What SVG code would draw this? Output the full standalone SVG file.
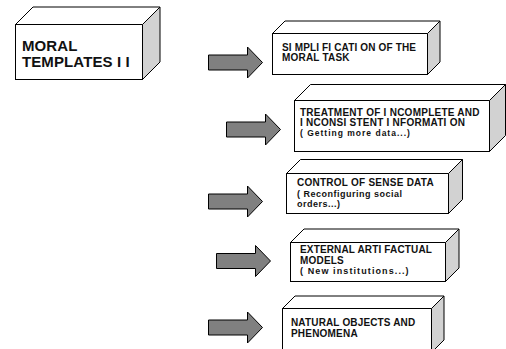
<svg xmlns="http://www.w3.org/2000/svg" width="506" height="349" viewBox="0 0 506 349">
<style>
.f{fill:#ffffff;stroke:#000;stroke-width:1}
.s{fill:#d2d2d2;stroke:#000;stroke-width:1}
.t{font-family:"Liberation Sans",Arial,sans-serif;font-weight:bold;font-size:10px;fill:#111;letter-spacing:0.2px}
.p{font-size:9px;letter-spacing:0.8px}
.big{font-size:15px;letter-spacing:0.1px}
.arr{fill:#808080;stroke:#000;stroke-width:1}
</style>
<defs>
<polygon id="arrow" points="0,-7.5 39,-7.5 39,-15.5 54,0 39,15.5 39,7.5 0,7.5"/>
</defs>
<rect width="506" height="349" fill="#fff"/>
<g id="connectors">
<use href="#arrow" class="arr" transform="translate(208.5,62.5)"/>
<use href="#arrow" class="arr" transform="translate(226.5,129.5)"/>
<use href="#arrow" class="arr" transform="translate(208.5,201.5)"/>
<use href="#arrow" class="arr" transform="translate(216.5,261)"/>
<use href="#arrow" class="arr" transform="translate(208.5,327.5)"/>
</g>
<g id="moral-templates">
<rect class="f" x="15.5" y="24.5" width="127" height="55"/>
<polygon class="f" points="15.5,24.5 33,7 160,7 142.5,24.5"/>
<polygon class="s" points="142.5,24.5 160,7 160,62 142.5,79.5"/>
<text class="t big" x="22" y="50.5">MORAL</text>
<text class="t big" x="22" y="67">TEMPLATES I I</text>
</g>
<g id="simplification">
<rect class="f" x="272.5" y="33.5" width="155" height="41"/>
<polygon class="f" points="272.5,33.5 285,21 440,21 427.5,33.5"/>
<polygon class="s" points="427.5,33.5 440,21 440,62 427.5,74.5"/>
<text class="t" x="282" y="50.5" style="letter-spacing:0.15px">SI MPLI FI CATI ON OF THE</text>
<text class="t" x="282" y="61">MORAL TASK</text>
</g>
<g id="treatment">
<rect class="f" x="294.5" y="100.5" width="195" height="51"/>
<polygon class="f" points="294.5,100.5 310.5,84.5 505.5,84.5 489.5,100.5"/>
<polygon class="s" points="489.5,100.5 505.5,84.5 505.5,135.5 489.5,151.5"/>
<text class="t" x="300" y="115.5" style="letter-spacing:0.25px">TREATMENT OF I NCOMPLETE AND</text>
<text class="t" x="300" y="126" style="letter-spacing:0.25px">I NCONSI STENT I NFORMATI ON</text>
<text class="t p" x="300" y="136" style="font-size:8.5px;letter-spacing:1px">( Getting more data...)</text>
</g>
<g id="control">
<rect class="f" x="286.5" y="173.5" width="162" height="40"/>
<polygon class="f" points="286.5,173.5 300.5,159.5 462.5,159.5 448.5,173.5"/>
<polygon class="s" points="448.5,173.5 462.5,159.5 462.5,199.5 448.5,213.5"/>
<text class="t" x="297" y="186" style="letter-spacing:0.25px">CONTROL OF SENSE DATA</text>
<text class="t p" x="297" y="196.5" style="letter-spacing:0.5px">( Reconfiguring social</text>
<text class="t p" x="297" y="207" style="letter-spacing:0.5px">orders...)</text>
</g>
<g id="external">
<rect class="f" x="290.5" y="242.5" width="155" height="39"/>
<polygon class="f" points="290.5,242.5 304,229 459,229 445.5,242.5"/>
<polygon class="s" points="445.5,242.5 459,229 459,268 445.5,281.5"/>
<text class="t" x="300" y="253" style="letter-spacing:0.15px">EXTERNAL ARTI FACTUAL</text>
<text class="t" x="300" y="263.5">MODELS</text>
<text class="t p" x="300" y="274" style="letter-spacing:1.1px">( New institutions...)</text>
</g>
<g id="natural">
<rect class="f" x="282.5" y="308.5" width="149" height="44"/>
<polygon class="f" points="282.5,308.5 295,296 444,296 431.5,308.5"/>
<polygon class="s" points="431.5,308.5 444,296 444,340 431.5,352.5"/>
<text class="t" x="291" y="326" style="letter-spacing:0.15px">NATURAL OBJECTS AND</text>
<text class="t" x="291" y="337">PHENOMENA</text>
</g>
</svg>
